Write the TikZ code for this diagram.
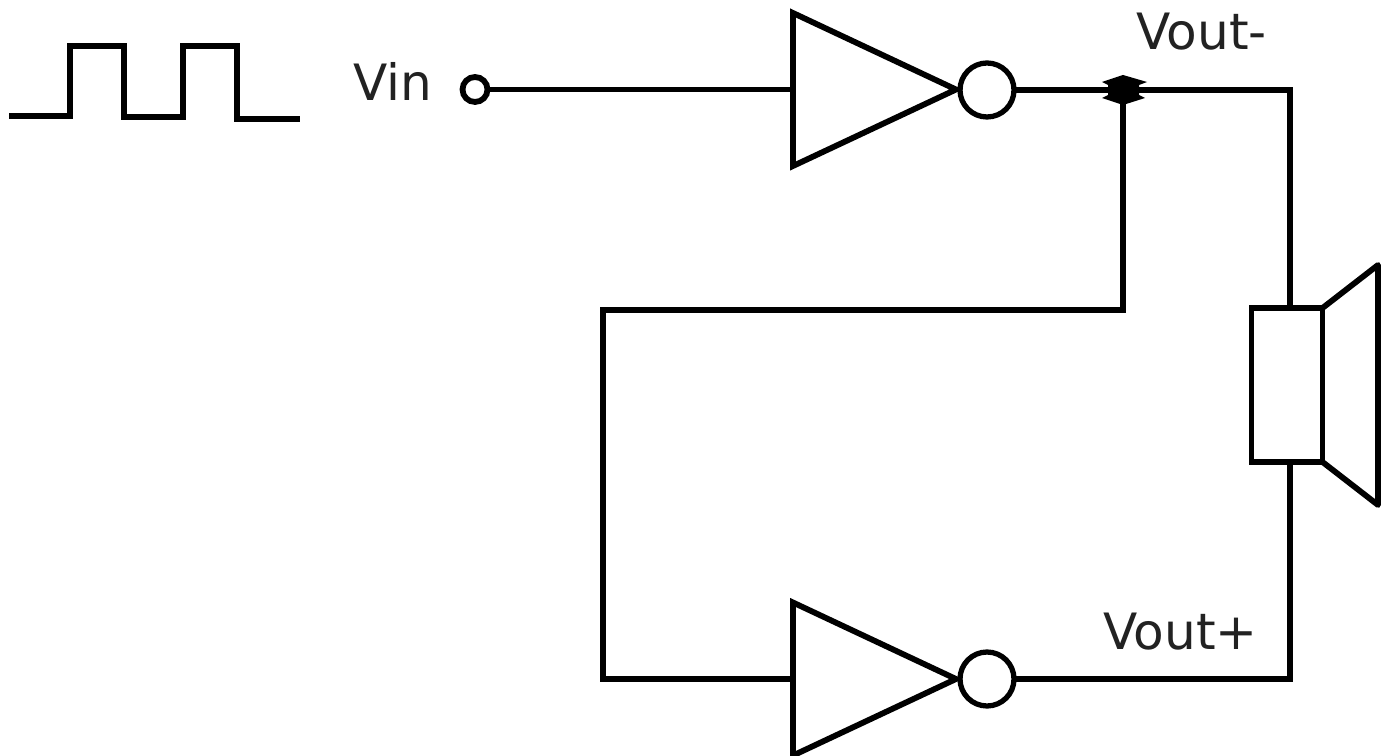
\documentclass[tikz,border=0pt]{standalone}
\usepackage{fontspec}
\setmainfont{DejaVu Sans}
\usetikzlibrary{shapes.geometric, calc}
\definecolor{labelgray}{HTML}{222222}
\tikzset{
  % Wire style
  wire/.style={
    line width = 3.3pt
    , line join=miter
  },
}
\tikzset{
  % Inverter body
  inverter/.style={
    draw
    , isosceles triangle
    , isosceles triangle stretches
    , minimum width=153*0.02cm
    , minimum height=163*0.02cm
    , inner sep=0pt
    , outer sep=0pt
    , line width=3.3pt
    , anchor=lower side
  },
}
\tikzset{
  % Inverter output bubble
  bubble/.style={
    draw
    , circle
    , minimum size=54*0.02cm
    , inner sep=0pt
    , outer sep=0pt
    , line width=3pt
  },
}
\tikzset{
  % Input terminal
  terminal/.style={
    draw
    , circle
    , minimum size=25*0.02cm
    , inner sep=0pt
    , outer sep=0pt
    , line width=3.3pt
  },
}
\tikzset{
  % Text beside a wire
  netlabel/.style={
    text=labelgray
    , font=\fontsize{28.5}{34}\selectfont
    , inner sep=0pt
    , anchor=base west
  },
}
\begin{document}
\begin{tikzpicture}[x=0.02cm, y=-0.02cm]
  \useasboundingbox (0,0) rectangle (1389,756);
  % input pulses
  \draw[wire] (9,116) -- (70,116) -- (70,46) -- (124,46) -- (124,117) -- (183,117)
    -- (183,46) -- (237,46) -- (237,119) -- (300,119);
  \node (vin) [netlabel] at (353,101) {Vin};
  \node (vinterm) [terminal] at (475,89.5) {};
  % top inverter
  \node (inv1) [inverter] at (793,89.5) {};
  \node (bub1) [bubble] at (987,90) {};
  % bottom inverter
  \node (inv2) [inverter] at (793,679) {};
  \node (bub2) [bubble] at (987,679) {};
  % speaker
  \node (coil) [draw, rectangle, line width=3.3pt, minimum width=71*0.02cm
    , minimum height=154*0.02cm, inner sep=0pt, outer sep=0pt] at (1287,385) {};
  \coordinate (conetop) at (1378,265);
  \coordinate (conebot) at (1378,505);
  \draw[wire, line join=round] (coil.north east) -- (conetop) -- (conebot) -- (coil.south east);
  % labels
  \node (voutm) [netlabel] at (1136,50) {Vout-};
  \node (voutp) [netlabel] at (1103,649) {Vout+};
  % junction
  \coordinate (junc) at (1123,90);
  \fill (junc) ++(0,-15) -- ++(24,7) -- ++(-8,3) -- ++(0,10) -- ++(6,3) -- ++(-22,7)
    -- ++(-21,-7) -- ++(6,-3) -- ++(0,-10) -- ++(-6,-3) -- cycle;
  % wires
  \coordinate (cornerm) at (1290,90);
  \coordinate (cornerp) at (1290,679);
  \coordinate (loopr) at (1123,310);
  \coordinate (loopl) at (603,310);
  \coordinate (loopb) at (603,679);
  \draw[wire] (vinterm.east) -- (inv1.lower side);
  \draw[wire] (bub1.east) -- (cornerm) -- (coil.north -| cornerm);
  \draw[wire] (bub2.east) -- (cornerp) -- (coil.south -| cornerp);
  \draw[wire] (junc) -- (loopr) -- (loopl) -- (loopb) -- (inv2.lower side);
\end{tikzpicture}
\end{document}
